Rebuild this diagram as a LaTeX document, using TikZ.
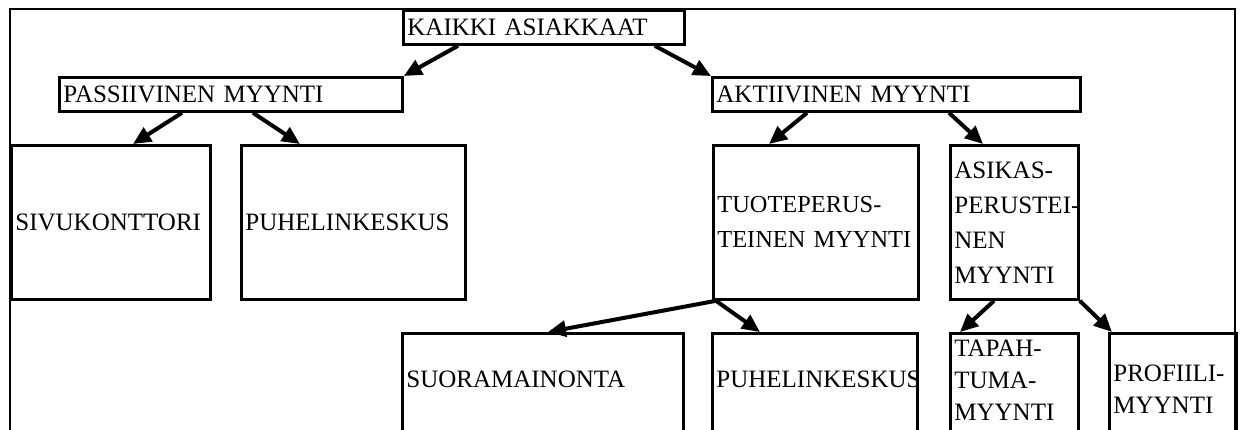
\documentclass[tikz,border=0pt]{standalone}
\usepackage{fontspec}
\setmainfont{Liberation Serif}
\usetikzlibrary{arrows.meta}
\begin{document}
\begin{tikzpicture}[x=0.5pt,y=-0.5pt,
  box/.style={draw, line width=1.4pt, anchor=north west, inner xsep=2pt, inner ysep=0pt, align=left, font=\fontsize{12.5}{17.5}\selectfont},
  lowbox/.style={box, minimum height=56pt},
  frameline/.style={line width=1.2pt},
  arr/.style={line width=2pt, -{Triangle[length=9pt,width=8pt]}}]
\useasboundingbox (0,0) rectangle (1241,429);
\clip (0,0) rectangle (1241,429);
\draw[frameline] (10,440) -- (10,9) -- (1235,9) -- (1235,440);
% level 0
\node[box, minimum width=140.5pt, minimum height=17pt, text width=136.5pt] (K) at (402,9) {\mbox{KAIKKI ASIAKKAAT}};
% level 1
\node[box, minimum width=171.5pt, minimum height=17pt, text width=167.5pt] (PASS) at (58,76) {\mbox{PASSIIVINEN MYYNTI}};
\node[box, minimum width=184pt, minimum height=17pt, text width=180pt] (AKT) at (711,76) {\mbox{AKTIIVINEN MYYNTI}};
% level 2
\node[box, minimum width=99.5pt, minimum height=77pt, text width=95.5pt] (SIVU) at (10,144) {\mbox{SIVUKONTTORI}};
\node[box, minimum width=112pt, minimum height=77pt, text width=108pt] (PUHE1) at (240,144) {\mbox{PUHELINKESKUS}};
\node[box, minimum width=102.5pt, minimum height=77pt, text width=98.5pt, font=\fontsize{12.2}{17.5}\selectfont] (TUOTE) at (712,144) {\mbox{TUOTEPERUS-}\\\mbox{TEINEN MYYNTI}};
\node[box, minimum width=64pt, minimum height=77pt, text width=60pt] (ASIK) at (949,144) {\mbox{ASIKAS-}\\\mbox{PERUSTEI-}\\\mbox{NEN}\\\mbox{MYYNTI}};
% level 3
\node[lowbox, minimum width=140.5pt, text width=136.5pt, text depth=10pt] (SUORA) at (401,332) {\mbox{SUORAMAINONTA}};
\node[lowbox, minimum width=102.5pt, text width=98.5pt, text depth=10pt] (PUHE2) at (711,332) {\mbox{PUHELINKESKUS}};
\node[lowbox, minimum width=64pt, text width=60pt, text depth=41pt, font=\fontsize{12.5}{16}\selectfont] (TAPAH) at (949,332) {\mbox{TAPAH-}\\\mbox{TUMA-}\\\mbox{MYYNTI}};
\node[lowbox, minimum width=63.5pt, text width=59.5pt, font=\fontsize{12.5}{16}\selectfont] (PROF) at (1108,332) {\mbox{PROFIILI-}\\\mbox{MYYNTI}};
% arrows
\draw[arr] ([xshift=28pt]K.south west) -- (PASS.north east);
\draw[arr] ([xshift=-15.5pt]K.south east) -- (AKT.north west);
\draw[arr] ([xshift=62pt]PASS.south west) -- ([xshift=61.5pt]SIVU.north west);
\draw[arr] ([xshift=97.5pt]PASS.south west) -- ([xshift=30pt]PUHE1.north west);
\draw[arr] ([xshift=48pt]AKT.south west) -- ([xshift=28.5pt]TUOTE.north west);
\draw[arr] ([xshift=119pt]AKT.south west) -- ([xshift=17pt]ASIK.north west);
\draw[arr] ([xshift=2pt]TUOTE.south west) -- ([xshift=73.5pt]SUORA.north west);
\draw[arr] ([xshift=2pt]TUOTE.south west) -- ([xshift=24.5pt]PUHE2.north west);
\draw[arr] ([xshift=22.5pt]ASIK.south west) -- ([xshift=5.5pt]TAPAH.north west);
\draw[arr] (ASIK.south east) -- ([xshift=2pt]PROF.north west);
\end{tikzpicture}
\end{document}
